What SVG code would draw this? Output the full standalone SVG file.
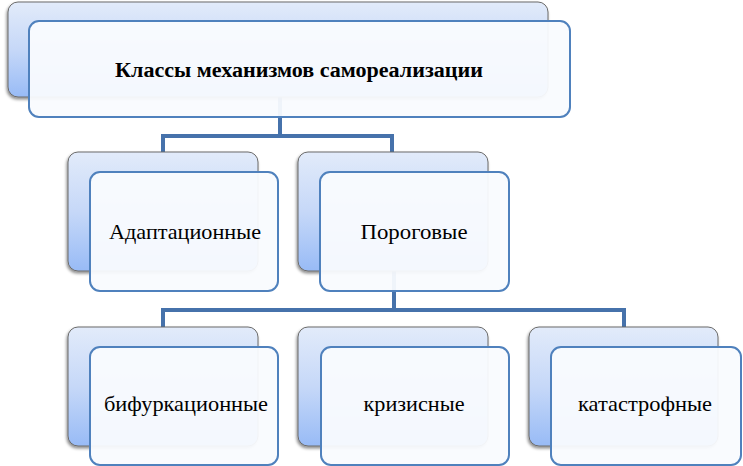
<svg xmlns="http://www.w3.org/2000/svg" width="743" height="466" viewBox="0 0 743 466">
<defs>
<linearGradient id="bg" x1="0" y1="0" x2="0" y2="1">
<stop offset="0" stop-color="#e2ebfa"/>
<stop offset="0.5" stop-color="#c6d8f8"/>
<stop offset="1" stop-color="#98bbf6"/>
</linearGradient>
<filter id="sh" x="-10%" y="-10%" width="120%" height="130%">
<feDropShadow dx="-1" dy="2" stdDeviation="1.5" flood-color="#000" flood-opacity="0.45"/>
</filter>
</defs>
<style>
.back{fill:url(#bg);stroke:#6b6b6b;stroke-width:1;filter:url(#sh)}
.front{fill:#f9fbfe;fill-opacity:0.95;stroke:#4f81bd;stroke-width:2}
.conn{fill:none;stroke:#4672ab;stroke-width:4}
text{font-family:"Times New Roman","Liberation Serif","DejaVu Serif",serif;text-anchor:middle;fill:#000}
</style>
<rect width="743" height="466" fill="#fff"/>
<g id="connectors">
<path class="conn" d="M280,97 V136 M163,152 V136 H392 V152"/>
<path class="conn" d="M394,271 V310 M163,327 V310 H624 V327"/>
</g>
<g id="node-root">
<rect class="back" x="8" y="2" width="540" height="95" rx="10"/>
<rect class="front" x="29" y="21" width="541" height="96" rx="10"/>
<text x="299" y="77" font-size="20" font-weight="bold" textLength="368" lengthAdjust="spacingAndGlyphs">Классы механизмов самореализации</text>
</g>
<g id="node-adapt">
<rect class="back" x="68" y="152" width="190" height="119" rx="10"/>
<rect class="front" x="90" y="172" width="188" height="119" rx="10"/>
<text x="185" y="239" font-size="21" textLength="152" lengthAdjust="spacingAndGlyphs">Адаптационные</text>
</g>
<g id="node-porog">
<rect class="back" x="298" y="152" width="190" height="119" rx="10"/>
<rect class="front" x="320" y="172" width="189" height="119" rx="10"/>
<text x="414" y="239" font-size="21" textLength="107" lengthAdjust="spacingAndGlyphs">Пороговые</text>
</g>
<g id="node-bif">
<rect class="back" x="68" y="327" width="190" height="119" rx="10"/>
<rect class="front" x="90" y="347" width="188" height="118" rx="10"/>
<text x="186" y="411" font-size="21" textLength="164" lengthAdjust="spacingAndGlyphs">бифуркационные</text>
</g>
<g id="node-kriz">
<rect class="back" x="298" y="327" width="190" height="119" rx="10"/>
<rect class="front" x="321" y="347" width="188" height="118" rx="10"/>
<text x="414" y="411" font-size="21" textLength="101" lengthAdjust="spacingAndGlyphs">кризисные</text>
</g>
<g id="node-katas">
<rect class="back" x="529" y="327" width="189" height="119" rx="10"/>
<rect class="front" x="551" y="347" width="190" height="118" rx="10"/>
<text x="645" y="411" font-size="21" textLength="134" lengthAdjust="spacingAndGlyphs">катастрофные</text>
</g>
</svg>
